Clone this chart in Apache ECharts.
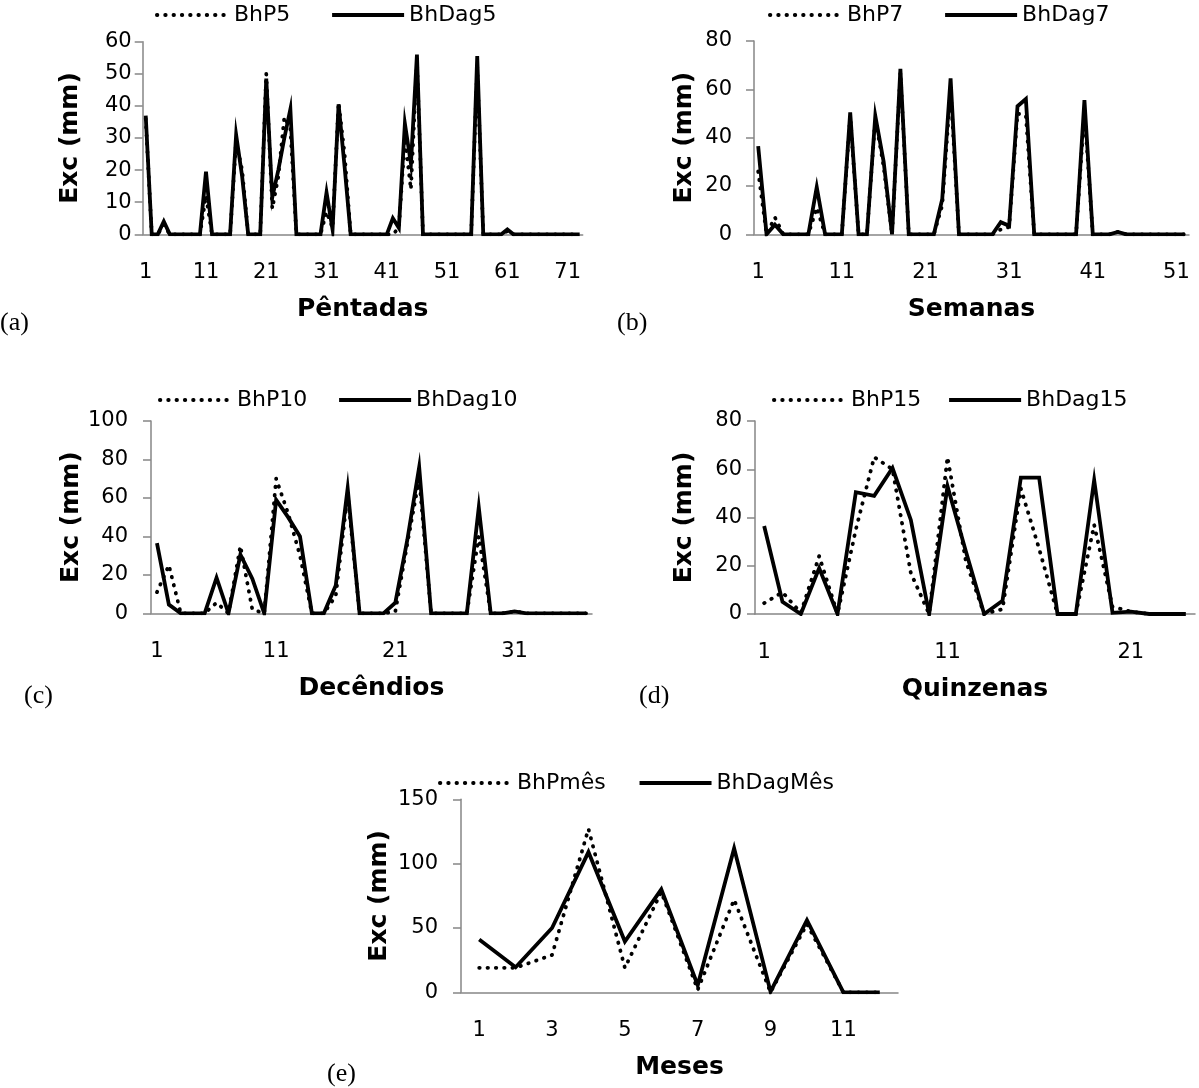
<!DOCTYPE html>
<html>
<head>
<meta charset="utf-8">
<script src="https://cdn.jsdelivr.net/npm/echarts@6/dist/echarts.min.js"></script>
<style>
html,body{margin:0;padding:0;background:#ffffff;}
#chart{width:1199px;height:1088px;}
</style>
</head>
<body>
<div id="chart"></div>
<script>
// ---------- categories ----------
const pentadas = [1,2,3,4,5,6,7,8,9,10,11,12,13,14,15,16,17,18,19,20,21,22,23,24,25,26,27,28,29,30,31,32,33,34,35,36,37,38,39,40,41,42,43,44,45,46,47,48,49,50,51,52,53,54,55,56,57,58,59,60,61,62,63,64,65,66,67,68,69,70,71,72,73];
const semanas = [1,2,3,4,5,6,7,8,9,10,11,12,13,14,15,16,17,18,19,20,21,22,23,24,25,26,27,28,29,30,31,32,33,34,35,36,37,38,39,40,41,42,43,44,45,46,47,48,49,50,51,52];
const decendios = [1,2,3,4,5,6,7,8,9,10,11,12,13,14,15,16,17,18,19,20,21,22,23,24,25,26,27,28,29,30,31,32,33,34,35,36,37];
const quinzenas = [1,2,3,4,5,6,7,8,9,10,11,12,13,14,15,16,17,18,19,20,21,22,23,24];
const meses = [1,2,3,4,5,6,7,8,9,10,11,12];

// ---------- series values (mm) ----------
const bhP5 = [36,0,0,3,0,0,0,0,0,0, 12,0,0,0,0,29,20,0,0,0, 50,8,18,36.5,33,0,0,0,0,0, 7,2,41,25,0,0,0,0,0,0, 0,0,2,30,14,54,0,0,0,0, 0,0,0,0,0,52,0,0,0,0, 1,0,0,0,0,0,0,0,0,0, 0,0,0];
const bhDag5 = [37,0,0,4,0,0,0,0,0,0, 19.5,0,0,0,0,31,18,0,0,0, 48.5,11.5,20,30,39,0,0,0,0,0, 13,1.5,40.5,21,0,0,0,0,0,0, 0,5,2,34.5,22,56,0,0,0,0, 0,0,0,0,0,55.5,0,0,0,0, 1.5,0,0,0,0,0,0,0,0,0, 0,0,0];

const bhP7 = [26,0,7,0,0,0,0,11,0,0, 0,49,0,0,48,28,0,67,0,0, 0,0,12,60,0,0,0,0,0,2, 3,50,49,0,0,0,0,0,0,51, 0,0,0,1,0,0,0,0,0,0, 0,0];
const bhDag7 = [36.5,0,4,0,0,0,0,19.5,0,0, 0,50.5,0,0,49,30,0,68.5,0,0, 0,0,14.5,64.5,0,0,0,0,0,5, 3.5,53,56,0,0,0,0,0,0,55.5, 0,0,0,1,0,0,0,0,0,0, 0,0];

const bhP10 = [11,25,0,0,0,5.5,0,35,2,0, 70,52,30,0,0,9,62,0,0,0, 1,36,70,0,0,0,0,40,0,0, 1,0,0,0,0,0,0];
const bhDag10 = [36.5,4.5,0,0,0,18.5,0,30.5,18,0, 59,50,40,0,0,14.5,65,0,0,0, 5.5,38,76,0,0,0,0,55,0,0, 1,0,0,0,0,0,0];

const bhP15 = [4.5,9,0.5,24,0,35,65,60,17,0, 65,22,0,2,52,27,0,0,37,3, 1,0,0,0];
const bhDag15 = [36.5,5,0,19,0,50.5,49,60.5,39,0, 53,26,0,5.5,56.5,56.5,0,0,55.5,0.5, 1,0,0,0];

const bhPMes = [19,19,29,127,19,78,2,72,0,53,0,0];
const bhDagMes = [41,19.5,50,109,39.5,80,5.5,112,0.5,56,0,0];

// ---------- labels / axis settings ----------
const seriesNames = [['BhP5','BhDag5'],['BhP7','BhDag7'],['BhP10','BhDag10'],['BhP15','BhDag15'],['BhPmês','BhDagMês']];
const xTitles = ['Pêntadas','Semanas','Decêndios','Quinzenas','Meses'];
const yTitle = 'Exc (mm)';
const panelTags = ['(a)','(b)','(c)','(d)','(e)'];
const yMax = [60,80,100,80,150];
const yStep = [10,20,20,20,50];
const xLabelEvery = [9,9,9,9,1];

const cats = [pentadas, semanas, decendios, quinzenas, meses];
const pSeries = [bhP5, bhP7, bhP10, bhP15, bhPMes];
const dSeries = [bhDag5, bhDag7, bhDag10, bhDag15, bhDagMes];

// ---------- layout (positions / styles) ----------
const layout = [
  {grid:{left:142.7, top:41.7, width:440, height:192.6}, yMargin:11, yGap:60, legend:{left:155, top:4, itemGap:40}, tag:{left:0, top:310}},
  {grid:{left:754, top:41, width:435, height:193.3}, yMargin:22, yGap:57, legend:{left:768, top:4, itemGap:40}, tag:{left:617, top:310}},
  {grid:{left:151, top:421, width:441, height:192.3}, yMargin:23, yGap:63, legend:{left:158, top:389, itemGap:30}, tag:{left:24, top:683}},
  {grid:{left:755, top:421, width:440, height:193}, yMargin:13, yGap:58, legend:{left:772, top:389, itemGap:26}, tag:{left:639, top:683}},
  {grid:{left:461, top:799.3, width:437, height:193}, yMargin:23, yGap:69, legend:{left:438, top:772, itemGap:32}, tag:{left:327, top:1061}}
];

const SANS = 'DejaVu Sans';
const AXIS_GRAY = '#868686';
const DOT_STYLE = {color:'#000', width:3.8, type:[0.5,7.8], cap:'round', join:'round'};
const SOLID_STYLE = {color:'#000', width:3.8, type:'solid', join:'miter'};

const option = {
  animation: false,
  backgroundColor: '#ffffff',
  grid: [], xAxis: [], yAxis: [], series: [], legend: [], title: []
};

for (let k = 0; k < 5; k++) {
  const L = layout[k];
  option.grid.push(Object.assign({containLabel:false}, L.grid));
  option.xAxis.push({
    type: 'category', gridIndex: k, data: cats[k], boundaryGap: true,
    axisLine: {show:true, lineStyle:{color:AXIS_GRAY, width:1.5}},
    axisTick: {show:false},
    axisLabel: {interval: xLabelEvery[k], fontFamily:SANS, fontSize:21, color:'#000', margin:28},
    splitLine: {show:false},
    name: xTitles[k], nameLocation:'middle', nameGap:63,
    nameTextStyle: {fontFamily:SANS, fontSize:25, fontWeight:'bold', color:'#000'}
  });
  option.yAxis.push({
    type: 'value', gridIndex: k, min: 0, max: yMax[k], interval: yStep[k],
    axisLine: {show:true, lineStyle:{color:AXIS_GRAY, width:1.5}},
    axisTick: {show:true, length:8, lineStyle:{color:AXIS_GRAY, width:1.5}},
    axisLabel: {fontFamily:SANS, fontSize:21, color:'#000', margin:L.yMargin},
    splitLine: {show:false},
    name: yTitle, nameLocation:'middle', nameGap:L.yGap, nameRotate:90,
    nameTextStyle: {fontFamily:SANS, fontSize:25, fontWeight:'bold', color:'#000'}
  });
  option.series.push({
    type:'line', name: seriesNames[k][0], xAxisIndex:k, yAxisIndex:k, data: pSeries[k],
    symbol:'none', showSymbol:false,
    lineStyle: DOT_STYLE,
    itemStyle:{color:'#000'}
  });
  option.series.push({
    type:'line', name: seriesNames[k][1], xAxisIndex:k, yAxisIndex:k, data: dSeries[k],
    symbol:'none', showSymbol:false,
    lineStyle: SOLID_STYLE,
    itemStyle:{color:'#000'}
  });
  option.legend.push({
    data: seriesNames[k], left: L.legend.left, top: L.legend.top, itemGap: L.legend.itemGap,
    padding: 0, itemWidth: 72, itemHeight: 14, orient:'horizontal',
    itemStyle: {color:'rgba(0,0,0,0)', borderColor:'rgba(0,0,0,0)', borderWidth:0},
    lineStyle: {color:'#000', width:3.8},
    textStyle: {fontFamily:SANS, fontSize:22, color:'#000'},
    selectedMode: false
  });
  option.title.push({
    text: panelTags[k], left: L.tag.left, top: L.tag.top, padding: 0,
    textStyle: {fontFamily:'Liberation Serif', fontSize:26, fontWeight:'normal', color:'#000'}
  });
}

const chart = echarts.init(document.getElementById('chart'), null, {renderer:'canvas'});
chart.setOption(option);
</script>
</body>
</html>
